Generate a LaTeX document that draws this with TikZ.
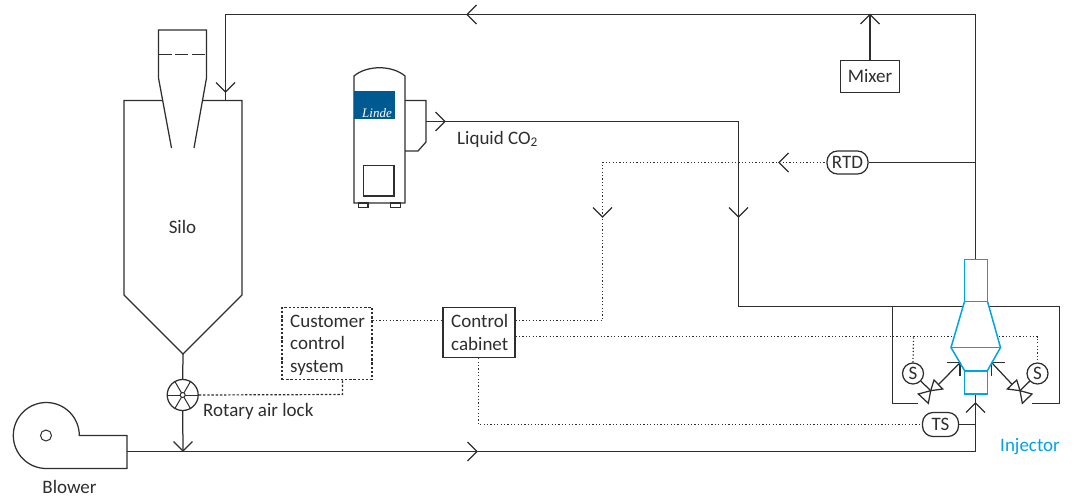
\documentclass[tikz,border=0pt]{standalone}
\usepackage{fontspec}
\setmainfont{Carlito}
\newfontfamily\logofont{Liberation Serif}
\definecolor{ink}{HTML}{2E2E2E}
\definecolor{blueinj}{HTML}{00A3E6}
\definecolor{lindeblue}{HTML}{005A92}
\tikzset{
  line/.style={draw=ink,line width=1.25pt,line join=miter},
  thin line/.style={draw=ink,line width=1pt},
  dots/.style={draw=ink,line width=1.2pt,dash pattern=on 1.2pt off 2.2pt},
  dashbox/.style={draw=ink,line width=1.2pt,dash pattern=on 2.4pt off 1.8pt},
  inj/.style={draw=blueinj,line width=1.5pt,line join=miter},
  label/.style={font=\fontsize{19}{22.5}\selectfont,text=ink,inner sep=0pt,align=left},
  box/.style={line,inner sep=0pt,fill=white},
  pill/.style={line,rounded corners=10.5pt,inner sep=0pt,fill=white,font=\fontsize{19}{19}\selectfont,text=ink},
  sensor/.style={draw=ink,line width=1.25pt,circle,minimum size=21pt,inner sep=0pt,font=\fontsize{19}{19}\selectfont,text=ink},
}
\newcommand{\chevD}[2]{\draw[line] (#1-9.5,#2-9.5) -- (#1,#2) -- (#1+9.5,#2-9.5);}
\newcommand{\chevU}[2]{\draw[line] (#1-9.5,#2+9.5) -- (#1,#2) -- (#1+9.5,#2+9.5);}
\newcommand{\chevL}[2]{\draw[line] (#1+9.5,#2-9.5) -- (#1,#2) -- (#1+9.5,#2+9.5);}
\newcommand{\chevR}[2]{\draw[line] (#1-9.5,#2-9.5) -- (#1,#2) -- (#1-9.5,#2+9.5);}
\begin{document}
\begin{tikzpicture}[x=1pt,y=-1pt]
\useasboundingbox (0,0) rectangle (1075,497);
% nodes
\node[box,minimum width=59pt,minimum height=32pt,label] (mixer) at (870,76.5) {Mixer};
\node[box,minimum width=72pt,minimum height=50pt] (cabinet) at (479,332.5) {};
\node[label,anchor=north west] at (451,314.5) {Control\\cabinet};
\node[dashbox,minimum width=90pt,minimum height=72.5pt,inner sep=0pt] (customer) at (327,343.5) {};
\node[label,anchor=north west] at (290,314.5) {Customer\\control\\system};
\node[pill,minimum width=41pt,minimum height=23pt] (rtd) at (847.5,162.5) {RTD};
\node[pill,minimum width=36pt,minimum height=24pt] (ts) at (940.5,424.5) {TS};
\node[sensor] (sl) at (913,373.5) {S};
\node[sensor] (sr) at (1037.5,373.5) {S};
\node[draw=ink,line width=1.25pt,circle,minimum size=31pt,inner sep=0pt] (rot) at (182.7,395) {};
\node[draw=ink,line width=1pt,fill=white,circle,minimum size=11pt,inner sep=0pt] (hub) at (46,435.5) {};
\coordinate (inletT) at (975.5,259.5);
\coordinate (inletB) at (975.5,394);
% silo
\draw[line] (162,100.5) -- (124,100.5) -- (124,295) -- (183,354) -- (242,295) -- (242,100.5) -- (203,100.5);
\draw[line] (171.5,148) -- (158.5,78) -- (158.5,30) -- (206.5,30) -- (206.5,78) -- (194,148);
\draw[line,dash pattern=on 13pt off 3.5pt] (158.5,54.5) -- (206.5,54.5);
\node[label] at (182.5,227) {Silo};
% rotary lock
\draw[line] (183,354) -- (rot.north);
\draw[line] (rot.south) -- (183,451.5);
\foreach \a in {0,60,120}{\draw[thin line] (rot.\a) -- (rot.\a+180);}
\node[draw=ink,line width=1pt,fill=white,circle,minimum size=5pt,inner sep=0pt] (rothub) at (rot) {};
\chevD{183}{451}
\node[label,anchor=west] at (203,411) {Rotary air lock};
% blower
\draw[line] (79.3,435.5) arc[start angle=0,end angle=-270,radius=33] -- (127,468.5) -- (127,435.5) -- cycle;
\node[label] at (69.5,486.5) {Blower};
% main air
\draw[line] (127,451.5) -- (975.5,451.5) -- (inletB);
\chevR{477}{451.5}
\chevU{975.5}{403}
\draw[line] (ts) -- (975.5,424.5);
% top recycle
\draw[line] (225.5,100.5) -- (225.5,14.5) -- (975.5,14.5) -- (inletT);
\chevL{467}{14.5}
\chevD{225.5}{92}
\draw[line] (mixer) -- (mixer|-0,14.5);
\chevU{870}{14.5}
\draw[line] (rtd) -- (975.5,162.5);
% CO2 tank
\draw[line] (354,203) -- (354,76) .. controls (367,65) and (392,65) .. (405,76) -- (405,203) -- cycle;
\fill[lindeblue] (354,91) rectangle (394.5,119.5);
\node[text=white,font=\fontsize{13}{13}\selectfont\logofont\itshape,inner sep=0pt] at (377,113) {Linde};
\draw[line] (363.5,165.5) rectangle (394,196);
\draw[line] (358.5,203) rectangle (368,207.5);
\draw[line] (390.5,203) rectangle (400.5,207.5);
\draw[line] (405,100.5) -- (426,100.5) -- (426,142) -- (418,151) -- (405,151);
\draw[line] (426,121.5) -- (738.5,121.5) -- (738.5,306.5) -- (962.5,306.5);
\chevR{445}{121.5}
\chevD{738.5}{217}
\node[label,anchor=west] at (457,139) {Liquid CO\textsubscript{2}};
% branches
\draw[line] (892.5,306.5) -- (892.5,403.5) -- (918.3,403.5);
\draw[line] (989,306.5) -- (1059.5,306.5) -- (1059.5,403.5) -- (1032,403.5);
% dotted signals
\draw[dots] (customer.east|-0,320.5) -- (cabinet.west|-0,320.5);
\draw[dots] (cabinet.east|-0,320.5) -- (602.5,320.5) -- (602.5,162.5) -- (rtd.west);
\draw[dots] (cabinet.east|-0,336.5) -- (953,336.5);
\draw[dots] (999,336.5) -- (1037.5,336.5) -- (sr.north);
\draw[dots] (sl.north) -- (913.5,336.5);
\draw[dots] (cabinet.south-|478.5,0) -- (478.5,424.5) -- (ts.west);
\draw[dashbox] (customer.south-|342.5,0) -- (342.5,394.5) -- (rot.east);
\chevD{602.5}{217}
\chevL{779}{162.5}
% valves
\draw[line,fill=white] (930.7,390.7) -- (934,380) -- (942.7,389) -- cycle;
\draw[line,fill=white] (930.7,390.7) -- (918.3,394) -- (928.3,403.3) -- cycle;
\draw[line,fill=white] (1020,390.7) -- (1007.3,389) -- (1016.7,380) -- cycle;
\draw[line,fill=white] (1020,390.7) -- (1032,394) -- (1022.3,403.3) -- cycle;
\draw[line] (sl) -- (930.7,390.7);
\draw[line] (sr) -- (1020,390.7);
\draw[line] (938.7,384.3) -- (960,362.7);
\draw[line] (1012,384.3) -- (991.7,362.7);
\draw[line] (946.7,362.7) -- (960,362.7) -- (960,376);
\draw[line] (1005,362.7) -- (991.7,362.7) -- (991.7,376);
% injector
\draw[inj] (964.5,301.5) rectangle (987.5,259.5);
\draw[inj] (964.5,301.5) -- (951,347.5) -- (964.5,370.5) (987.5,301.5) -- (1000.5,347.5) -- (987.5,370.5);
\draw[inj,line width=1.8pt] (951,347.5) -- (1000.5,347.5);
\draw[inj,line width=1.8pt] (964.5,371) -- (987.5,371);
\draw[inj] (964.5,371) rectangle (987.5,394);
\node[label,text=blueinj,anchor=west] at (1000,447) {Injector};
\end{tikzpicture}
\end{document}
